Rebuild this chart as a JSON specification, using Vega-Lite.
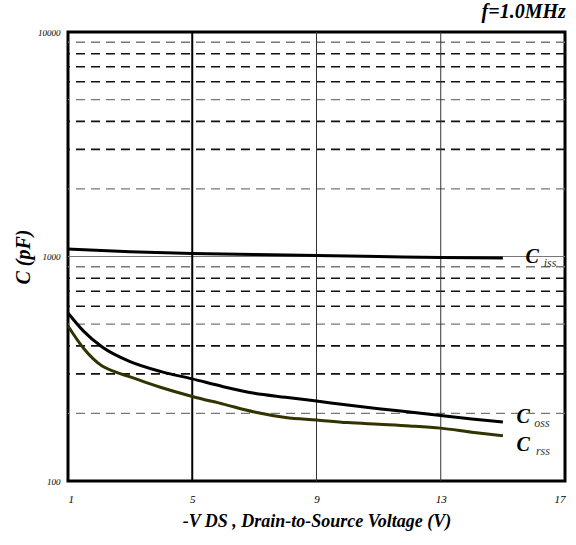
{
  "$schema": "https://vega.github.io/schema/vega-lite/v6.json",
  "width": 497,
  "height": 449,
  "autosize": "none",
  "padding": {"left": 68, "top": 32, "right": 11, "bottom": 64},
  "background": "white",
  "config": {
    "view": {"stroke": "black", "strokeWidth": 3},
    "font": "Liberation Serif"
  },
  "title": {
    "text": "f=1.0MHz",
    "anchor": "end",
    "font": "Liberation Serif",
    "fontSize": 20,
    "fontWeight": "bold",
    "fontStyle": "italic",
    "color": "black",
    "offset": 6
  },
  "datasets": {
    "curves": [
      {"series": "Ciss", "v": 1, "c": 1080},
      {"series": "Ciss", "v": 3, "c": 1050},
      {"series": "Ciss", "v": 5, "c": 1030},
      {"series": "Ciss", "v": 7, "c": 1020},
      {"series": "Ciss", "v": 9, "c": 1010},
      {"series": "Ciss", "v": 11, "c": 1000},
      {"series": "Ciss", "v": 13, "c": 990},
      {"series": "Ciss", "v": 15, "c": 985},
      {"series": "Coss", "v": 1, "c": 560},
      {"series": "Coss", "v": 1.5, "c": 465},
      {"series": "Coss", "v": 2.1, "c": 395},
      {"series": "Coss", "v": 3, "c": 340},
      {"series": "Coss", "v": 4, "c": 307},
      {"series": "Coss", "v": 5, "c": 285},
      {"series": "Coss", "v": 6, "c": 263},
      {"series": "Coss", "v": 7, "c": 246},
      {"series": "Coss", "v": 8, "c": 236},
      {"series": "Coss", "v": 9, "c": 227},
      {"series": "Coss", "v": 10, "c": 218},
      {"series": "Coss", "v": 11, "c": 210},
      {"series": "Coss", "v": 12, "c": 203},
      {"series": "Coss", "v": 13, "c": 196},
      {"series": "Coss", "v": 14, "c": 189},
      {"series": "Coss", "v": 15, "c": 183},
      {"series": "Crss", "v": 1, "c": 490},
      {"series": "Crss", "v": 1.5, "c": 390},
      {"series": "Crss", "v": 2.1, "c": 325},
      {"series": "Crss", "v": 2.5, "c": 307},
      {"series": "Crss", "v": 3, "c": 291},
      {"series": "Crss", "v": 3.5, "c": 275},
      {"series": "Crss", "v": 4, "c": 261},
      {"series": "Crss", "v": 5, "c": 238},
      {"series": "Crss", "v": 6, "c": 220},
      {"series": "Crss", "v": 7, "c": 203},
      {"series": "Crss", "v": 8, "c": 192},
      {"series": "Crss", "v": 9, "c": 187},
      {"series": "Crss", "v": 10, "c": 182},
      {"series": "Crss", "v": 11, "c": 179},
      {"series": "Crss", "v": 12, "c": 176},
      {"series": "Crss", "v": 13, "c": 172},
      {"series": "Crss", "v": 14, "c": 165},
      {"series": "Crss", "v": 15, "c": 159}
    ],
    "gridDark": [{"c": 300}, {"c": 400}, {"c": 600}, {"c": 700}, {"c": 800}, {"c": 3000}, {"c": 4000}, {"c": 6000}, {"c": 7000}, {"c": 8000}],
    "gridGray": [{"c": 200}, {"c": 500}, {"c": 900}, {"c": 2000}, {"c": 5000}, {"c": 9000}],
    "labelsC": [
      {"v": 15.94, "c": 1000, "t": "C"},
      {"v": 15.65, "c": 193, "t": "C"},
      {"v": 15.65, "c": 145, "t": "C"}
    ],
    "labelsSub": [
      {"v": 16.52, "c": 935, "t": "iss"},
      {"v": 16.26, "c": 181, "t": "oss"},
      {"v": 16.29, "c": 136, "t": "rss"}
    ]
  },
  "layer": [
    {
      "data": {"name": "gridGray"},
      "mark": {"type": "rule", "color": "#777777", "strokeWidth": 1.3, "strokeDash": [9, 6]},
      "encoding": {"y": {"field": "c", "type": "quantitative", "scale": {"type": "log", "domain": [100, 10000], "nice": false}}}
    },
    {
      "data": {"name": "gridDark"},
      "mark": {"type": "rule", "color": "#111111", "strokeWidth": 1.6, "strokeDash": [9, 6]},
      "encoding": {"y": {"field": "c", "type": "quantitative"}}
    },
    {
      "data": {"values": [{"c": 1000}]},
      "mark": {"type": "rule", "color": "#777777", "strokeWidth": 1},
      "encoding": {"y": {"field": "c", "type": "quantitative"}}
    },
    {
      "data": {"values": [{"v": 5}]},
      "mark": {"type": "rule", "color": "black", "strokeWidth": 2},
      "encoding": {"x": {"field": "v", "type": "quantitative", "scale": {"domain": [1, 17], "nice": false, "zero": false}}}
    },
    {
      "data": {"values": [{"v": 9}, {"v": 13}]},
      "mark": {"type": "rule", "color": "#333333", "strokeWidth": 1},
      "encoding": {"x": {"field": "v", "type": "quantitative", "scale": {"domain": [1, 17], "nice": false, "zero": false}}}
    },
    {
      "data": {"name": "curves"},
      "mark": {"type": "line", "strokeWidth": 3, "interpolate": "monotone"},
      "encoding": {
        "x": {
          "field": "v", "type": "quantitative",
          "scale": {"domain": [1, 17], "nice": false, "zero": false},
          "axis": {
            "values": [1, 5, 9, 13, 17], "grid": false, "domain": false, "ticks": false,
            "labelFont": "Liberation Serif", "labelFontStyle": "italic", "labelFontSize": 11, "labelColor": "black",
            "labelPadding": 12,
            "title": "-V DS , Drain-to-Source Voltage (V)",
            "titleFont": "Liberation Serif", "titleFontSize": 18, "titleFontWeight": "bold", "titleFontStyle": "italic",
            "titleColor": "black", "titlePadding": 8
          }
        },
        "y": {
          "field": "c", "type": "quantitative",
          "axis": {
            "values": [100, 1000, 10000], "grid": false, "domain": false, "ticks": false,
            "format": "d",
            "labelFont": "Liberation Serif", "labelFontStyle": "italic", "labelFontSize": 9, "labelColor": "black",
            "labelPadding": 8,
            "title": "C (pF)",
            "titleFont": "Liberation Serif", "titleFontSize": 20, "titleFontWeight": "bold", "titleFontStyle": "italic",
            "titleColor": "black", "titlePadding": 4
          }
        },
        "color": {
          "field": "series", "type": "nominal",
          "scale": {"domain": ["Ciss", "Coss", "Crss"], "range": ["#000000", "#000000", "#333300"]},
          "legend": null
        }
      }
    },
    {
      "data": {"name": "labelsC"},
      "mark": {"type": "text", "font": "Liberation Serif", "fontSize": 20, "fontWeight": "bold", "fontStyle": "italic", "color": "black", "align": "center", "baseline": "middle"},
      "encoding": {
        "x": {"field": "v", "type": "quantitative"},
        "y": {"field": "c", "type": "quantitative"},
        "text": {"field": "t"}
      }
    },
    {
      "data": {"name": "labelsSub"},
      "mark": {"type": "text", "font": "Liberation Serif", "fontSize": 12, "fontStyle": "italic", "color": "#333333", "align": "center", "baseline": "middle"},
      "encoding": {
        "x": {"field": "v", "type": "quantitative"},
        "y": {"field": "c", "type": "quantitative"},
        "text": {"field": "t"}
      }
    }
  ]
}
